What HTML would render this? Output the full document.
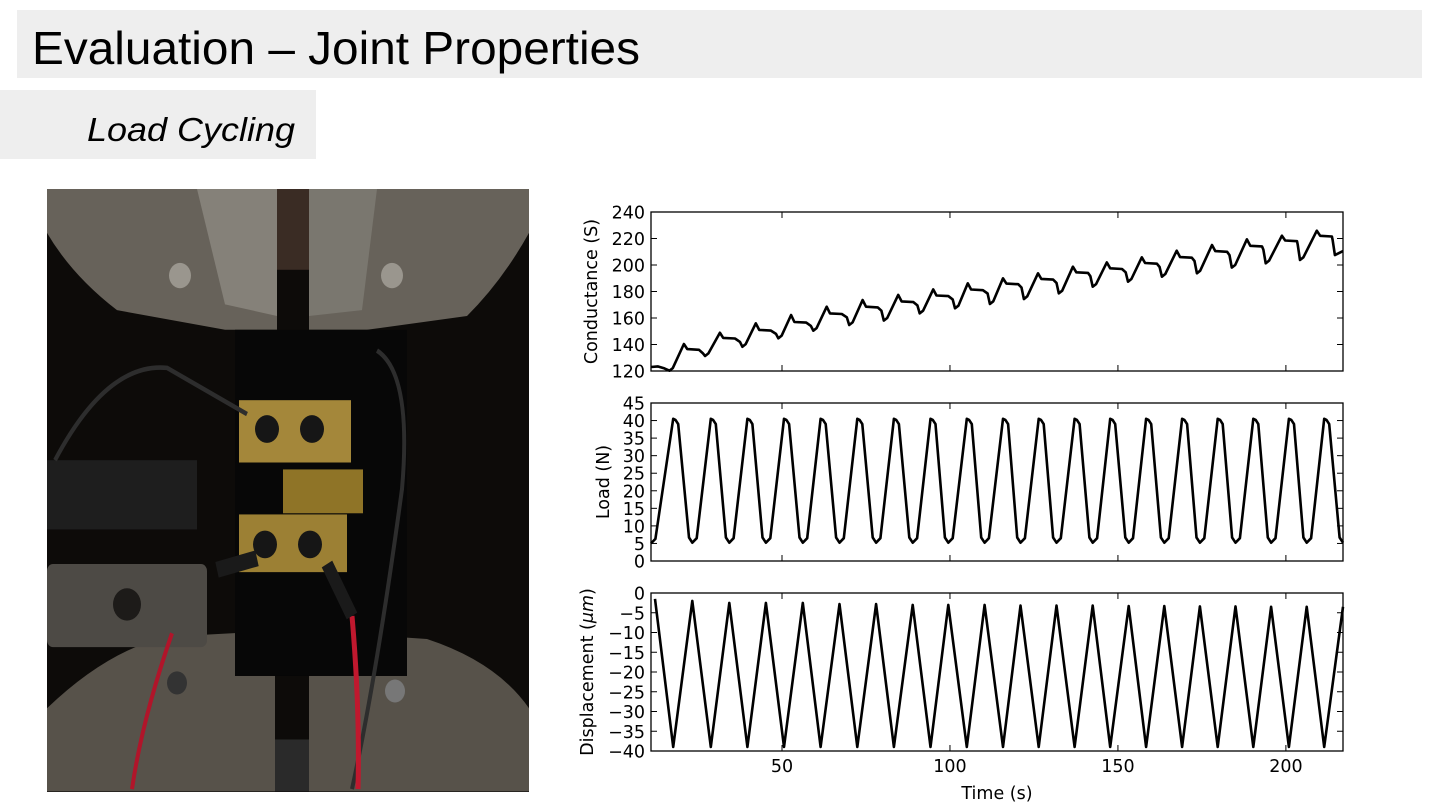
<!DOCTYPE html>
<html><head><meta charset="utf-8"><style>
html,body{margin:0;padding:0;background:#fff;width:1440px;height:810px;overflow:hidden}
svg{position:absolute;left:0;top:0}
text{font-family:"DejaVu Sans","Liberation Sans",sans-serif}
</style></head><body>
<svg width="1440" height="810">
<rect x="17" y="10" width="1405" height="68" fill="#eeeeee"/>
<text x="32" y="64" font-size="46" textLength="608" lengthAdjust="spacingAndGlyphs" style="font-family:'Liberation Sans',sans-serif" fill="#000">Evaluation – Joint Properties</text>
<rect x="0" y="90" width="316" height="69" fill="#eeeeee"/>
<text x="87" y="141" font-size="33" font-style="italic" textLength="208" lengthAdjust="spacingAndGlyphs" style="font-family:'Liberation Sans',sans-serif" fill="#000">Load Cycling</text>

<g transform="translate(47,189)">
<rect width="482" height="603" fill="#0d0b09"/>
<g transform="scale(1,1.154)">
<path d="M0,0 H230 V122 H178 L70,105 Q25,75 0,38 Z" fill="#67625a"/>
<path d="M150,0 L178,100 L230,110 V0 Z" fill="#858179"/>
<path d="M262,0 H482 V38 Q455,80 420,110 L320,122 H262 Z" fill="#67625a"/>
<path d="M262,0 V110 L315,105 L330,0 Z" fill="#7a776f"/>
<rect x="230" y="0" width="32" height="70" fill="#3a2c24"/>
<circle cx="133" cy="75" r="11" fill="#9a968e"/><circle cx="345" cy="75" r="11" fill="#9a968e"/>
<path d="M0,450 Q60,400 120,388 L228,383 V522 H0 Z" fill="#57524a"/>
<path d="M262,383 L380,390 Q450,410 482,450 V522 H262 Z" fill="#57524a"/>
<rect x="228" y="477" width="34" height="45" fill="#2a2a2a"/>
<circle cx="130" cy="428" r="10" fill="#333"/><circle cx="348" cy="435" r="10" fill="#777"/>
<rect x="188" y="122" width="172" height="300" fill="#070707"/>
<rect x="0" y="235" width="150" height="60" fill="#1e1e1e"/>
<rect x="192" y="183" width="112" height="54" fill="#a4873a"/>
<rect x="192" y="282" width="108" height="50" fill="#9c8034"/>
<rect x="236" y="243" width="80" height="38" fill="#8f7427"/>
<circle cx="220" cy="208" r="12" fill="#161616"/><circle cx="265" cy="208" r="12" fill="#161616"/>
<circle cx="218" cy="308" r="12" fill="#161616"/><circle cx="263" cy="308" r="12" fill="#161616"/>
<rect x="0" y="325" width="160" height="72" rx="6" fill="#4d4a45"/>
<circle cx="80" cy="360" r="14" fill="#1d1b19"/>
<path d="M8,235 Q60,150 120,155 L200,195" stroke="#2d2d2d" stroke-width="4" fill="none"/>
<path d="M330,140 Q365,160 355,260 Q330,420 305,520" stroke="#2d2d2d" stroke-width="4" fill="none"/>
<path d="M125,385 Q95,460 85,520" stroke="#b0152a" stroke-width="4" fill="none"/>
<path d="M305,370 Q313,450 311,520" stroke="#c0182e" stroke-width="5" fill="none"/>
<path d="M170,330 L210,320" stroke="#1a1a1a" stroke-width="14"/>
<path d="M280,325 L305,370" stroke="#1a1a1a" stroke-width="12"/>
</g>
</g>
<g id="charts"></g>
</svg>
<script>
// x axis
const xTicks = [50, 100, 150, 200];
const xDomain = [11, 217];
// Conductance
const condTicks = [120, 140, 160, 180, 200, 220, 240];
const condStartT = [11, 13, 15];
const condStartV = [123, 123.5, 122];
const condDipT = [16.5, 27.1, 38.2, 48.9, 59.3, 70, 80.3, 91, 101.5, 111.9, 122, 132.4, 142.5, 153, 163.1, 173.5, 183.9, 194, 204.2, 214.6];
const condDipV = [120.2, 131.3, 138.3, 144.7, 150.4, 154.7, 158, 163.5, 167.3, 170.6, 174.3, 178.6, 183.6, 187.4, 191.2, 193.7, 198, 201.3, 203.8, 207.5];
const condPeakT = [20.8, 31.5, 42.2, 52.7, 63.3, 74, 84.6, 95, 105.3, 115.8, 126.2, 136.6, 146.7, 157.1, 167.5, 178, 188.4, 198.8, 209.2];
const condPeakV = [140.4, 148.9, 156, 162.3, 168.5, 173.6, 177.4, 181.6, 186.2, 190, 193.7, 198.7, 202, 205.8, 210.8, 215.1, 219.4, 222.1, 225.9];
const condPlateauV = [136.5, 145, 151, 157, 163.5, 168.5, 172.5, 177, 181.5, 186, 189.5, 194.5, 197.5, 201.5, 206, 210.5, 214.5, 218.5, 222];
const condEndT = 217, condEndV = 210.5;
// Load
const loadTicks = [0, 5, 10, 15, 20, 25, 30, 35, 40, 45];
const loadMinT = [11, 23.3, 34.3, 45.2, 56.2, 67.1, 78.0, 88.9, 99.5, 110.3, 121.0, 131.7, 142.5, 153.2, 163.8, 174.4, 185.0, 195.6, 206.2, 217.0];
const loadMinV = [5, 5.2, 5.2, 5.2, 5.2, 5.2, 5.2, 5.2, 5.2, 5.2, 5.2, 5.2, 5.2, 5.2, 5.2, 5.2, 5.2, 5.2, 5.2, 5.2];
const loadMaxT = [17.6, 28.8, 39.7, 50.6, 61.5, 72.4, 83.3, 94.2, 105.0, 115.8, 126.4, 137.1, 147.7, 158.4, 169.1, 179.7, 190.3, 200.9, 211.4];
const loadMaxV = [40.5, 40.5, 40.5, 40.5, 40.5, 40.5, 40.5, 40.5, 40.5, 40.5, 40.5, 40.5, 40.5, 40.5, 40.5, 40.5, 40.5, 40.5, 40.5];
// Displacement
const dispTicks = [0, -5, -10, -15, -20, -25, -30, -35, -40];
const dispPeakT = [12.2, 23.3, 34.3, 45.2, 56.2, 67.1, 78.0, 88.9, 99.5, 110.3, 121.0, 131.7, 142.5, 153.2, 163.8, 174.4, 185.0, 195.6, 206.2, 217.0];
const dispPeakV = [-1.5, -2, -2.5, -2.5, -2.5, -2.8, -2.8, -3, -3, -3, -3.2, -3.2, -3.2, -3.3, -3.3, -3.4, -3.4, -3.5, -3.5, -3.5];
const dispTroughT = [17.6, 28.8, 39.7, 50.6, 61.5, 72.4, 83.3, 94.2, 105.0, 115.8, 126.4, 137.1, 147.7, 158.4, 169.1, 179.7, 190.3, 200.9, 211.4];
const dispTroughV = [-39, -39, -39, -39, -39, -39, -39, -39, -39, -39, -39, -39, -39, -39, -39, -39, -39, -39, -39];

const NS = 'http://www.w3.org/2000/svg';
const root = document.getElementById('charts');
const L = 651, R = 1343;
function xs(t){ return L + (t - xDomain[0]) / (xDomain[1] - xDomain[0]) * (R - L); }
function mk(tag, attrs, parent){ const e = document.createElementNS(NS, tag); for (const k in attrs) e.setAttribute(k, attrs[k]); (parent||root).appendChild(e); return e; }
function fmt(v){ return v < 0 ? '\u2212' + Math.abs(v) : String(v); }

function panel(name, top, bot, lo, hi, ticks, pts, ylabel, ylx, showX){
  const ys = v => bot - (v - lo) / (hi - lo) * (bot - top);
  const g = mk('g', {});
  
  
  const d = pts.map((p,i)=>(i?'L':'M') + xs(p[0]).toFixed(1) + ',' + ys(p[1]).toFixed(1)).join(' ');
  const ln = mk('path', {d: d, fill:'none', stroke:'#000', 'stroke-width':2.6, 'stroke-linejoin':'round'}, g);
  
  
  const fr = mk('rect', {x:L, y:top, width:R-L, height:bot-top, fill:'none', stroke:'#000', 'stroke-width':1.3}, g);
  
  
  ticks.forEach(v => {
    const y = ys(v);
    mk('line', {x1:L, x2:L+6, y1:y, y2:y, stroke:'#000', 'stroke-width':1}, g);
    mk('line', {x1:R-6, x2:R, y1:y, y2:y, stroke:'#000', 'stroke-width':1}, g);
    const t = mk('text', {x:L-6, y:y+6.5, 'font-size':17.5, 'text-anchor':'end', fill:'#000'}, g);
    t.textContent = fmt(v);
    
    
  });
  xTicks.forEach(v => {
    const x = xs(v);
    mk('line', {x1:x, x2:x, y1:top, y2:top+6, stroke:'#000', 'stroke-width':1}, g);
    mk('line', {x1:x, x2:x, y1:bot-6, y2:bot, stroke:'#000', 'stroke-width':1}, g);
    if (showX){
      const t = mk('text', {x:x, y:bot+21, 'font-size':17.5, 'text-anchor':'middle', fill:'#000'}, g);
      t.textContent = v;
      
      
    }
  });
  const cy = (top+bot)/2;
  const yl = mk('text', {x:ylx, y:cy, 'font-size':17.5, 'text-anchor':'middle', transform:'rotate(-90 '+ylx+' '+cy+')', fill:'#000'}, g);
  yl.innerHTML = ylabel;
  
  
}

const cp = [];
condStartT.forEach((t,i)=>cp.push([t, condStartV[i]]));
condDipT.forEach((t,i)=>{
  cp.push([t, condDipV[i]]);
  if (i < condPeakT.length){
    cp.push([t+1, condDipV[i]+2]);
    cp.push([condPeakT[i], condPeakV[i]]);
    cp.push([condPeakT[i]+1, condPlateauV[i]]);
    cp.push([condPeakT[i]+4.5, condPlateauV[i]-0.5]);
    cp.push([condDipT[i+1]-0.7, condPlateauV[i]-3]);
  }
});
cp.push([condEndT, condEndV]);

const lp = [];
loadMinT.forEach((t,i)=>{
  if (i>0) lp.push([t-1, loadMinV[i]+1.5]);
  lp.push([t, loadMinV[i]]);
  if (i < loadMaxT.length){
    lp.push([t+1.3, loadMinV[i]+1.3]);
    lp.push([loadMaxT[i], loadMaxV[i]]);
    lp.push([loadMaxT[i]+0.7, loadMaxV[i]-0.3]);
    lp.push([loadMaxT[i]+1.5, loadMaxV[i]-1.5]);
  }
});

const dp = [];
dispPeakT.forEach((t,i)=>{
  dp.push([t, dispPeakV[i]]);
  if (i < dispTroughT.length) dp.push([dispTroughT[i], dispTroughV[i]]);
});

panel('conductance', 212, 371, 120, 240, condTicks, cp, 'Conductance (S)', 597, false);
panel('load', 403, 561, 0, 45, loadTicks, lp, 'Load (N)', 609, false);
panel('displacement', 593, 751, -40, 0, dispTicks, dp, 'Displacement (<tspan font-style="italic">μm</tspan>)', 593, true);
const xt = mk('text', {x:997, y:799, 'font-size':17.5, 'text-anchor':'middle', fill:'#000'});
xt.textContent = 'Time (s)';


</script>
</body></html>
